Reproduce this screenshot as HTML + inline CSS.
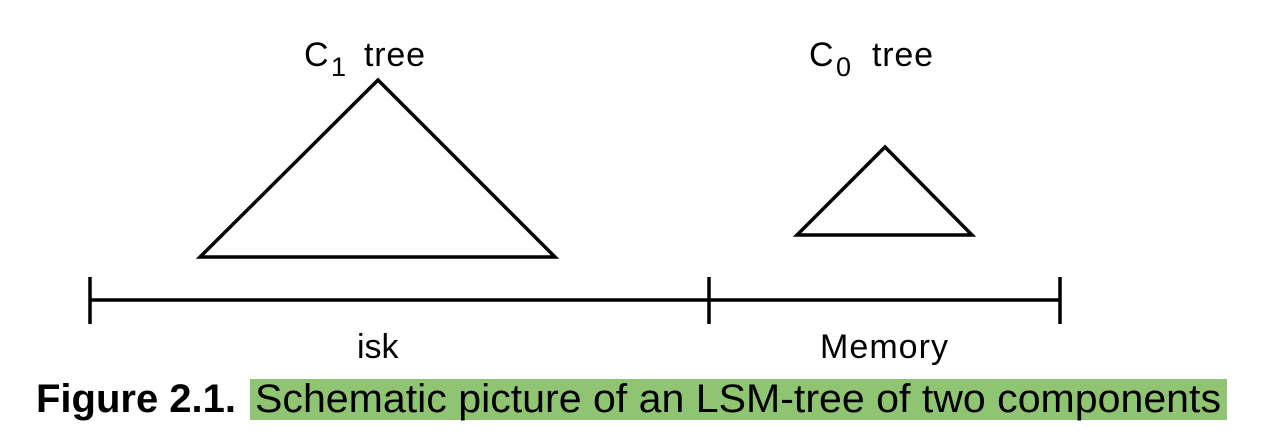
<!DOCTYPE html>
<html><head><meta charset="utf-8"><style>html,body{margin:0;padding:0;background:#fff;width:1268px;height:448px;overflow:hidden}</style></head>
<body>
<svg width="1268" height="448" viewBox="0 0 1268 448" xmlns="http://www.w3.org/2000/svg" font-family="Liberation Sans, sans-serif">
<g fill="none" stroke="#000" stroke-width="3.5" stroke-linejoin="miter">
<polygon points="378,80 200,257 555,257"/>
<polygon points="885,147 797,235 972,235"/>
<line x1="90" y1="300" x2="1060" y2="300"/>
<line x1="90" y1="277" x2="90" y2="324"/>
<line x1="709" y1="277" x2="709" y2="324"/>
<line x1="1060" y1="277" x2="1060" y2="324"/>
</g>
<text x="304" y="66" font-size="34">C</text><text x="331" y="76" font-size="27">1</text><text x="364" y="66" font-size="34" textLength="61">tree</text>
<text x="809" y="66" font-size="34">C</text><text x="836" y="76" font-size="27">0</text><text x="872" y="66" font-size="34" textLength="61">tree</text>
<text x="357" y="358" font-size="34">isk</text>
<text x="820" y="358" font-size="34" textLength="128">Memory</text>
<rect x="250" y="379" width="977" height="41" fill="#8fc472"/>
<text x="36" y="412" font-size="40" font-weight="bold" textLength="200" lengthAdjust="spacingAndGlyphs">Figure 2.1.</text>
<text x="255" y="412" font-size="40" textLength="966" lengthAdjust="spacingAndGlyphs">Schematic picture of an LSM-tree of two components</text>
</svg>
</body></html>
